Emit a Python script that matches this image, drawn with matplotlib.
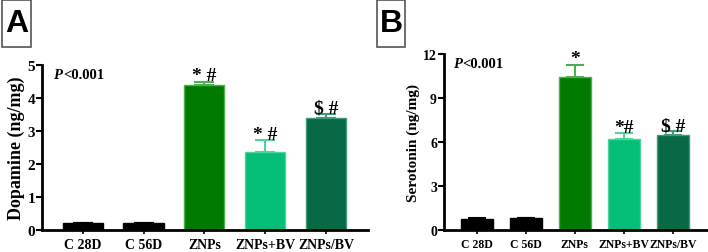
import numpy as np
import matplotlib.pyplot as plt
from matplotlib.patches import Rectangle

# Daten
groups = ['C 28D', 'C 56D', 'ZNPs', 'ZNPs+BV', 'ZNPs/BV']
dopamine = [0.20, 0.21, 4.40, 2.36, 3.38]
dopamine_err = [0.01, 0.01, 0.10, 0.36, 0.14]
dopamine_marks = ['', '', '* #', '* #', '$ #']
serotonin = [0.75, 0.80, 10.45, 6.20, 6.48]
serotonin_err = [0.05, 0.04, 0.82, 0.38, 0.25]
serotonin_marks = ['', '', '*', '*#', '$ #']

bar_colors = ['#000000', '#000000', '#007a00', '#05bf79', '#076a45']
edge_colors = ['#000000', '#000000', '#4fae4f', '#4fd39a', '#3f9a75']

plt.rcParams['font.family'] = ['Liberation Serif', 'DejaVu Serif']
plt.rcParams['font.weight'] = 'bold'

fig = plt.figure(figsize=(7.08, 2.53), dpi=100)


def panel(rect, values, errs, marks, ylim, yticks, ylabel, tick_fs, ytick_fs, label_fs, mark_fs, capsize, px):
    ax = fig.add_axes(rect)
    x = np.arange(len(groups))
    ax.bar(x, values, width=0.66, color=bar_colors, edgecolor=edge_colors, linewidth=1.0, zorder=2)
    for xi, v, e, c in zip(x, values, errs, edge_colors):
        ax.errorbar(xi, v, yerr=[[0], [e]], fmt='none', ecolor=c, elinewidth=1.5,
                    capsize=capsize, capthick=1.5, zorder=1)
    for xi, v, e, m in zip(x, values, errs, marks):
        if m:
            ax.annotate(m, (xi, v + e), xytext=(0, -2), textcoords='offset points',
                        ha='center', va='bottom', fontsize=mark_fs, fontweight='bold')
    ax.set_xlim(-0.67, 4.69)
    ax.set_ylim(*ylim)
    ax.set_yticks(yticks)
    ax.set_xticks(x)
    ax.set_xticklabels(groups, fontsize=tick_fs, fontweight='bold')
    ax.tick_params(axis='y', labelsize=ytick_fs, width=1.5, length=4, pad=1)
    ax.tick_params(axis='x', width=1.2, length=3, pad=3)
    for t in ax.get_yticklabels():
        t.set_fontweight('bold')
    ax.spines['top'].set_visible(False)
    ax.spines['right'].set_visible(False)
    ax.spines['left'].set_linewidth(2)
    ax.spines['bottom'].set_linewidth(2)
    ax.set_ylabel(ylabel, fontsize=label_fs, fontweight='bold', labelpad=2)
    # P-Wert: "P" kursiv, Rest fett
    t = ax.text(px, 0.985, 'P', transform=ax.transAxes, ha='left', va='top',
                fontsize=10.5, fontweight='bold', style='italic')
    ax.annotate('<0.001', xy=(1, 1), xycoords=t, xytext=(0.5, 0), textcoords='offset points',
                ha='left', va='top', fontsize=10.5, fontweight='bold')
    return ax


axA = panel([0.0593, 0.087, 0.4605, 0.652], dopamine, dopamine_err, dopamine_marks,
            (0, 5), [0, 1, 2, 3, 4, 5], 'Dopamine (ng/mg)', 10, 11, 13, 14, 7, 0.035)
axB = panel([0.627, 0.087, 0.3715, 0.6957], serotonin, serotonin_err, serotonin_marks,
            (0, 12), [0, 3, 6, 9, 12], 'Serotonin (ng/mg)', 8.5, 10, 11, 14, 6.5, 0.035)

# Panel-Buchstaben mit Rahmen
for x0, w, letter in [(2, 29, 'A'), (377, 28, 'B')]:
    fig.patches.append(Rectangle((x0 / 708, 1 - 48 / 253), w / 708, 47 / 253,
                                 transform=fig.transFigure, fill=False,
                                 edgecolor='#555555', linewidth=1.2))
    fig.text((x0 + w / 2) / 708, 1 - 24 / 253, letter, ha='center', va='center',
             fontsize=23, fontweight='bold', family='Liberation Sans')

fig.savefig('out.png', dpi=100)
